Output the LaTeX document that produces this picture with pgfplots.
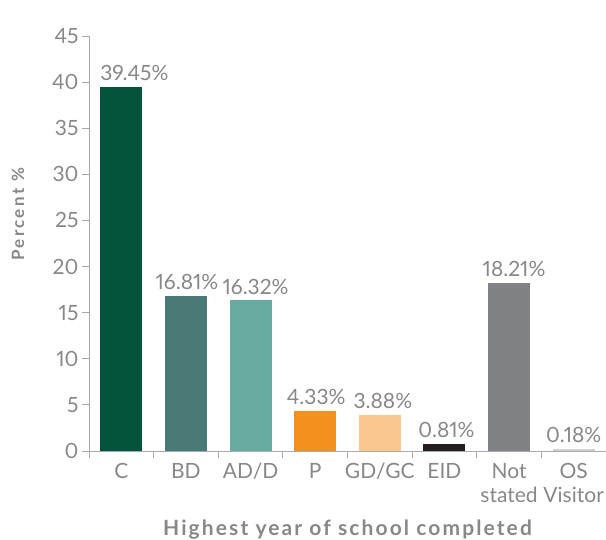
\documentclass[border=0pt]{standalone}
\usepackage{fontspec}
\setmainfont{Lato}[Numbers=Proportional]
\newfontfamily\headfont[LetterSpace=10]{Lato}
\newfontfamily\sidefont[LetterSpace=14]{Lato}
\usepackage{pgfplots}
\pgfplotsset{compat=1.18}

\definecolor{cC}{HTML}{02533B}
\definecolor{cBD}{HTML}{4A7A76}
\definecolor{cAD}{HTML}{6AABA0}
\definecolor{cP}{HTML}{F4901E}
\definecolor{cGD}{HTML}{F9C78F}
\definecolor{cEID}{HTML}{231F20}
\definecolor{cNS}{HTML}{808285}
\definecolor{cOS}{HTML}{D1D2D4}
\definecolor{txtgrey}{HTML}{87888A}
\definecolor{axgrey}{HTML}{A7A9AC}

% one bar per category; second argument nudges the value label sideways
\pgfplotsset{
  catbar/.style 2 args={ybar, bar width=42pt, bar shift=0pt, draw=none, fill=#1,
    nodes near coords={\pgfmathprintnumber[fixed,precision=2,fixed zerofill]{\pgfplotspointmeta}\%},
    every node near coord/.append style={font=\fontsize{21}{22}\selectfont, text=txtgrey,
      anchor=south, inner sep=3pt, xshift=#2, yshift=3pt}},
}

\begin{document}
\begin{tikzpicture}
\begin{axis}[
  at={(0,0)}, anchor=south west,
  scale only axis, width=517pt, height=415pt,
  xmin=-0.5, xmax=7.5, ymin=0, ymax=45,
  axis x line*=bottom, axis y line*=left,
  axis line style={draw=axgrey, line width=0.8pt, -},
  tick style={draw=axgrey, line width=0.8pt},
  tick align=outside, major tick length=7pt,
  ytick={0,5,...,45},
  xtick={-0.5,0.5,...,7.5},
  xticklabels={C,BD,AD/D,P,GD/GC,EID,{Not\\stated},{OS\\Visitor},{}},
  xticklabel style={xshift=32.3pt, yshift=-3pt, align=center, font=\fontsize{21}{24}\selectfont, text=txtgrey, inner sep=2pt},
  yticklabel style={font=\fontsize{21}{22}\selectfont, text=txtgrey},
  /pgf/number format/assume math mode=true,
  xlabel={Highest year of school completed},
  xlabel style={font=\headfont\bfseries\fontsize{21}{22}\selectfont, text=txtgrey,
    at={(axis description cs:0.5,0)}, anchor=center, yshift=-79pt},
  ylabel={Percent \%},
  ylabel style={font=\sidefont\bfseries\fontsize{17}{18}\selectfont, text=txtgrey,
    at={(axis description cs:0,0.57)}, anchor=center, yshift=71pt},
  clip=false,
]
\addplot[catbar={cC}{13pt}] coordinates {(0,39.45)};
\addplot[catbar={cBD}{1pt}] coordinates {(1,16.81)};
\addplot[catbar={cAD}{5pt}] coordinates {(2,16.32)};
\addplot[catbar={cP}{1pt}] coordinates {(3,4.33)};
\addplot[catbar={cGD}{3pt}] coordinates {(4,3.88)};
\addplot[catbar={cEID}{2pt}] coordinates {(5,0.81)};
\addplot[catbar={cNS}{5pt}] coordinates {(6,18.21)};
\addplot[catbar={cOS}{0pt}] coordinates {(7,0.18)};
\end{axis}
\pgfresetboundingbox
\path[use as bounding box] (-89pt,-89pt) rectangle (517pt,451pt);
\end{tikzpicture}
\end{document}
